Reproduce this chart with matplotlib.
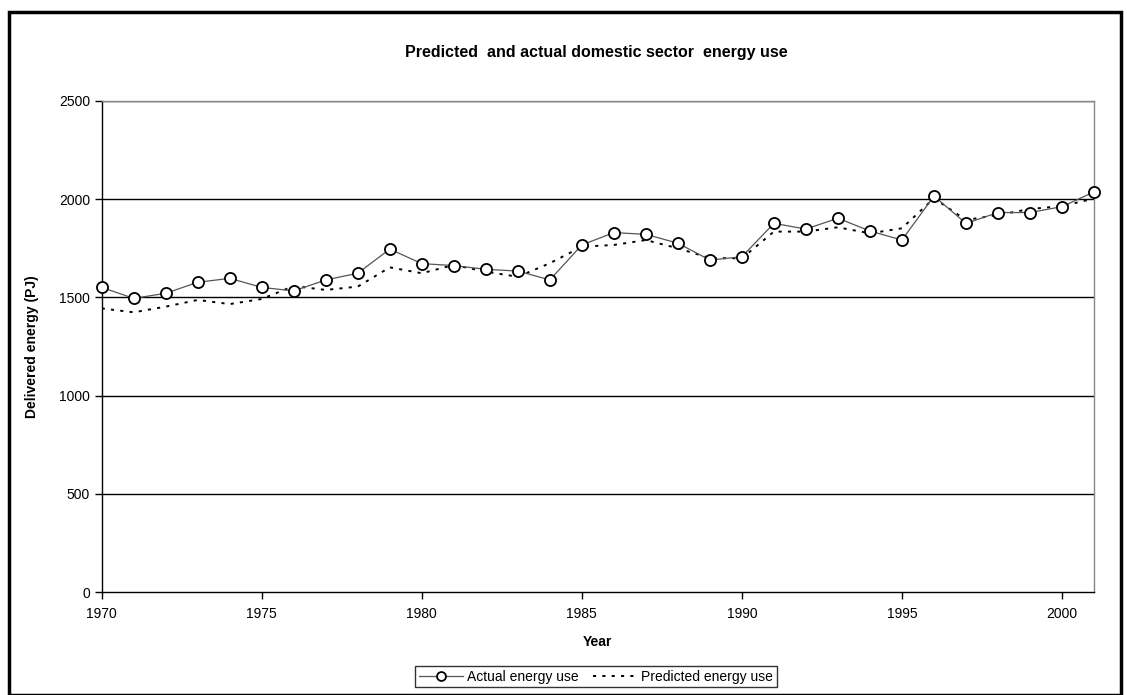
import matplotlib
matplotlib.use("Agg")
import matplotlib.pyplot as plt
from matplotlib.patches import Rectangle

plt.rcParams['font.family'] = ['Liberation Sans', 'DejaVu Sans']

years = list(range(1970, 2002))
actual = [1551, 1495, 1521, 1577, 1597, 1551, 1533, 1589, 1623, 1746,
          1672, 1662, 1643, 1634, 1589, 1767, 1830, 1821, 1776, 1690,
          1707, 1877, 1848, 1903, 1838, 1792, 2016, 1877, 1932, 1932,
          1962, 2037]
predicted = [1444, 1424, 1453, 1487, 1466, 1492, 1558, 1538, 1555, 1653,
             1623, 1665, 1631, 1605, 1674, 1758, 1767, 1792, 1750, 1700,
             1699, 1835, 1835, 1857, 1826, 1852, 2005, 1894, 1920, 1950,
             1965, 2003]
xticks = [1970, 1975, 1980, 1985, 1990, 1995, 2000]
yticks = [0, 500, 1000, 1500, 2000, 2500]

W, H = 1127, 695
fig = plt.figure(figsize=(W / 100, H / 100), dpi=100)
ax = fig.add_axes([101.7 / W, 1 - 592 / H, (1094 - 101.7) / W, (592 - 101) / H])

ax.plot(years, actual, color='#555555', lw=0.9, marker='o', ms=8,
        mfc='white', mec='black', mew=1.3, label='Actual energy use',
        zorder=3, clip_on=False)
ax.plot(years, predicted, color='black', lw=1.4, ls=(0, (1.6, 3.2)),
        label='Predicted energy use', zorder=2)

ax.set_xlim(1970, 2001)
ax.set_ylim(0, 2500)
ax.set_xticks(xticks)
ax.set_yticks(yticks)
ax.tick_params(axis='both', labelsize=10, direction='out', length=5, width=1, colors='black')
ax.tick_params(axis='x', pad=6)
for y in yticks[1:]:
    ax.axhline(y, color='black', lw=1.0, zorder=1)
ax.spines['left'].set_color('black')
ax.spines['bottom'].set_color('black')
ax.spines['top'].set_color('#888888')
ax.spines['right'].set_color('#888888')
for s in ax.spines.values():
    s.set_linewidth(1.0)

ax.set_xlabel('Year', fontsize=10, fontweight='bold', labelpad=10)
ax.set_ylabel('Delivered energy (PJ)', fontsize=10, fontweight='bold', labelpad=14)
fig.text(596 / W, 1 - 52 / H, 'Predicted  and actual domestic sector  energy use',
         ha='center', va='center', fontsize=11.5, fontweight='bold')

leg = fig.legend(loc='center', bbox_to_anchor=(596 / W, 1 - 676.5 / H), ncol=2,
                 fontsize=10, frameon=True, fancybox=False, edgecolor='black',
                 handlelength=3.2, handletextpad=0.3, columnspacing=1.0,
                 borderpad=0.25, markerscale=0.8)
leg.get_frame().set_linewidth(1.0)

fig.patches.append(Rectangle((9 / W, 0), (1121 - 9) / W, 1 - 12 / H,
                             transform=fig.transFigure, fill=False,
                             edgecolor='black', lw=2.5))

fig.savefig('out.png', dpi=100)
